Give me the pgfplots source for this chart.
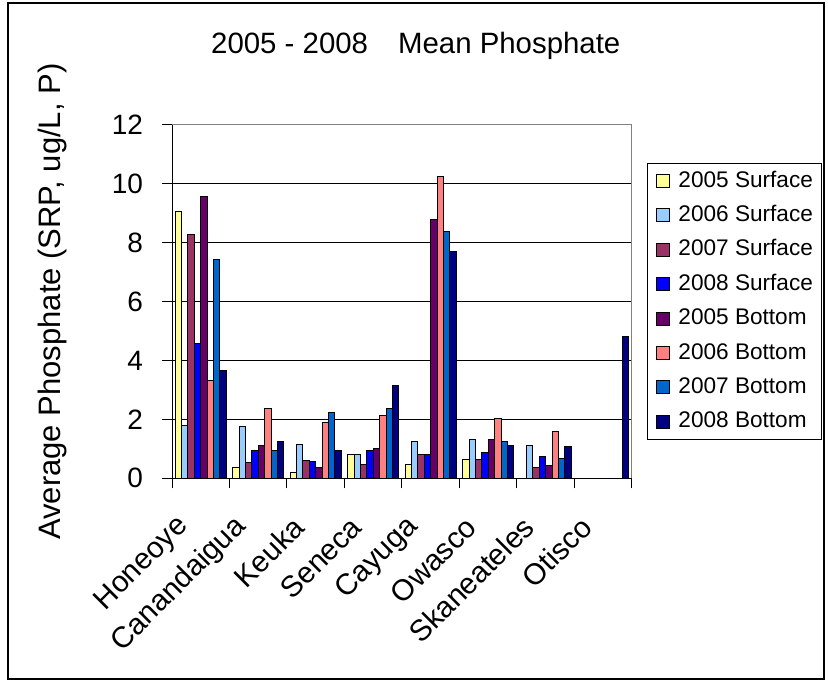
\documentclass[border=0pt]{standalone}
\usepackage{pgfplots}
\pgfplotsset{compat=1.18}
\usepackage{fontspec}
\setmainfont{Liberation Sans}

\definecolor{sA}{HTML}{FFFF99}
\definecolor{sB}{HTML}{99CCFF}
\definecolor{sC}{HTML}{993366}
\definecolor{sD}{HTML}{0000FF}
\definecolor{bA}{HTML}{660066}
\definecolor{bB}{HTML}{FF8080}
\definecolor{bC}{HTML}{0066CC}
\definecolor{bD}{HTML}{000080}

\begin{document}
\begin{tikzpicture}
% page and chart frame (1 px of the reference = 0.5bp)
\path (0,0) rectangle (414bp,340.5bp);
\draw[line width=0.8bp] (4bp,1bp) rectangle (412bp,339bp);

\begin{axis}[
  at={(86bp,101.35bp)}, anchor=south west,
  scale only axis, width=230bp, height=176.65bp,
  xmin=-0.5, xmax=7.5, ymin=0, ymax=12,
  ybar=0pt, bar width=3.2bp,
  axis x line*=bottom, axis y line*=left,
  axis line style={line width=0.5bp, black, -},
  tick align=outside, major tick length=5bp,
  tick style={black, line width=0.5bp},
  xtick={-0.5,0.5,...,7.5}, xticklabels={},
  extra x ticks={0,1,2,3,4,5,6,7},
  extra x tick labels={Honeoye,Canandaigua,Keuka,Seneca,Cayuga,Owasco,Skaneateles,Otisco},
  extra x tick style={major tick length=0pt,
    xticklabel style={xshift=-6bp, yshift=-19.5bp, rotate=45, anchor=east, font=\fontsize{14.8bp}{16bp}\selectfont}},
  ytick={0,2,...,12},
  ymajorgrids, major grid style={black, line width=0.5bp},
  yticklabel style={xshift=-6bp, font=\fontsize{14bp}{16bp}\selectfont},
  /pgf/number format/assume math mode=true,
  title={2005 - 2008\hspace{15bp}Mean Phosphate},
  title style={at={(rel axis cs:0.530,1.198)}, yshift=-5bp, anchor=base, font=\fontsize{14.7bp}{17bp}\selectfont},
  ylabel={Average Phosphate (SRP, ug/L, P)},
  ylabel style={at={(rel axis cs:-0.2413,0.5)}, anchor=base, rotate=0, font=\fontsize{15.5bp}{18bp}\selectfont},
  every axis plot/.append style={draw=black, line width=0.5bp},
  legend image code/.code={\draw[#1, draw=black, line width=0.5bp] (0bp,-3.25bp) rectangle (6.5bp,3.25bp);},
  legend cell align=left,
  legend style={at={(rel axis cs:1.0326,0.8925)}, anchor=north west,
    draw=black, line width=0.5bp,
    font=\fontsize{11.3bp}{13bp}\selectfont,
    nodes={inner sep=0pt, text height=8.2bp, text depth=2.2bp},
    /tikz/column sep=4bp, /tikz/row sep=6.8bp,
    inner xsep=4.5bp, inner ysep=3.6bp},
]
\addplot[fill=sA] coordinates {(0,9.07) (1,0.38) (2,0.19) (3,0.82) (4,0.47) (5,0.63)};
\addplot[fill=sB] coordinates {(0,1.78) (1,1.76) (2,1.16) (3,0.82) (4,1.26) (5,1.31) (6,1.12)};
\addplot[fill=sC] coordinates {(0,8.28) (1,0.53) (2,0.62) (3,0.48) (4,0.82) (5,0.63) (6,0.38)};
\addplot[fill=sD] coordinates {(0,4.58) (1,0.93) (2,0.58) (3,0.93) (4,0.82) (5,0.88) (6,0.73)};
\addplot[fill=bA] coordinates {(0,9.57) (1,1.12) (2,0.38) (3,1.02) (4,8.79) (5,1.31) (6,0.44)};
\addplot[fill=bB] coordinates {(0,3.31) (1,2.38) (2,1.90) (3,2.13) (4,10.24) (5,2.03) (6,1.60)};
\addplot[fill=bC] coordinates {(0,7.42) (1,0.93) (2,2.24) (3,2.38) (4,8.38) (5,1.26) (6,0.68)};
\addplot[fill=bD] coordinates {(0,3.65) (1,1.26) (2,0.93) (3,3.16) (4,7.71) (5,1.12) (6,1.07) (7,4.82)};
\legend{2005 Surface,2006 Surface,2007 Surface,2008 Surface,2005 Bottom,2006 Bottom,2007 Bottom,2008 Bottom}
\draw[gray, line width=0.5bp] (rel axis cs:0,1) -- (rel axis cs:1,1) -- (rel axis cs:1,0);
\end{axis}
\end{tikzpicture}
\end{document}
